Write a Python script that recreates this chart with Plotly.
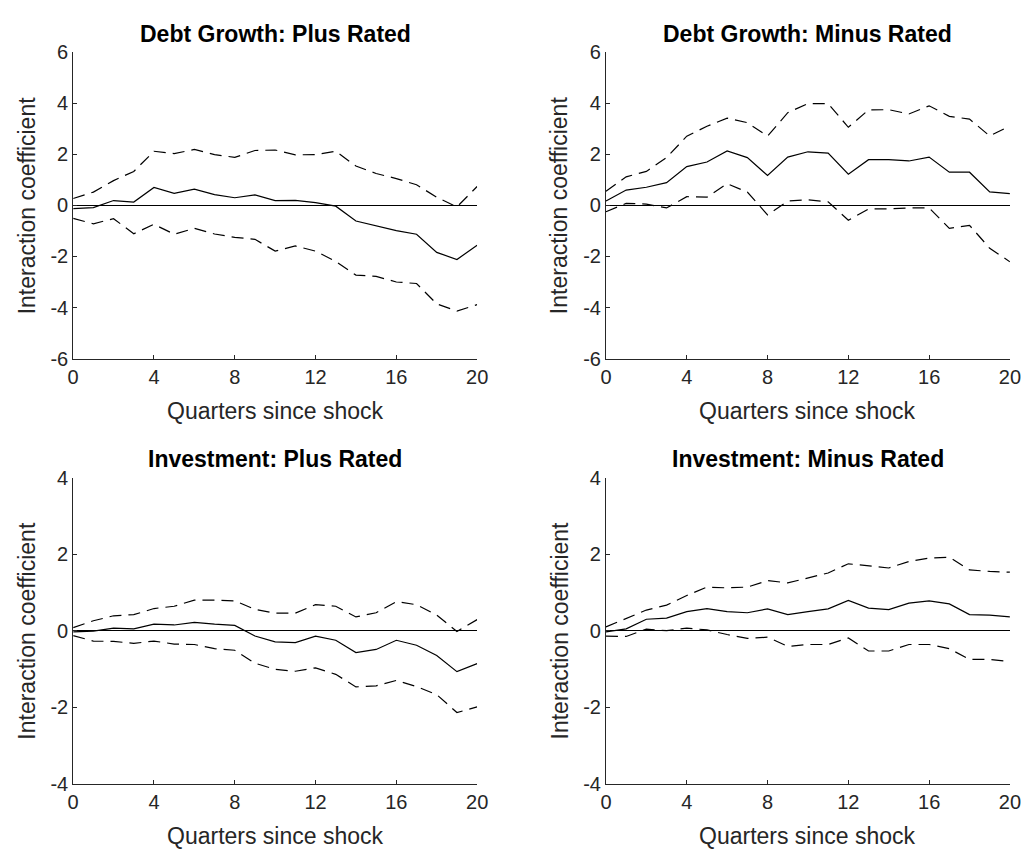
import plotly.graph_objects as go

quarters = list(range(21))

# Debt Growth: Plus Rated
dg_plus_est = [-0.13, -0.09, 0.19, 0.13, 0.70, 0.47, 0.64, 0.42, 0.30, 0.41, 0.19,
               0.20, 0.11, -0.03, -0.61, -0.79, -0.99, -1.13, -1.84, -2.12, -1.56]
dg_plus_hi = [0.27, 0.52, 0.97, 1.33, 2.12, 2.03, 2.19, 1.99, 1.88, 2.15, 2.17,
              1.98, 1.99, 2.12, 1.54, 1.25, 1.05, 0.81, 0.32, -0.06, 0.74]
dg_plus_lo = [-0.51, -0.72, -0.52, -1.11, -0.74, -1.13, -0.90, -1.12, -1.25, -1.33, -1.79,
              -1.59, -1.79, -2.20, -2.73, -2.78, -3.00, -3.06, -3.86, -4.14, -3.89]

# Debt Growth: Minus Rated
dg_minus_est = [0.17, 0.60, 0.71, 0.89, 1.52, 1.70, 2.13, 1.87, 1.17, 1.89, 2.10,
                2.05, 1.22, 1.79, 1.79, 1.74, 1.89, 1.30, 1.30, 0.53, 0.46]
dg_minus_hi = [0.55, 1.12, 1.33, 1.87, 2.71, 3.10, 3.42, 3.24, 2.71, 3.63, 3.99,
               3.99, 3.06, 3.74, 3.75, 3.58, 3.90, 3.49, 3.38, 2.72, 3.11]
dg_minus_lo = [-0.25, 0.08, 0.05, -0.10, 0.34, 0.32, 0.85, 0.52, -0.37, 0.17, 0.22,
               0.14, -0.58, -0.14, -0.14, -0.10, -0.10, -0.90, -0.78, -1.68, -2.21]

# Investment: Plus Rated
inv_plus_est = [-0.03, -0.01, 0.07, 0.05, 0.17, 0.15, 0.22, 0.17, 0.14, -0.14, -0.29,
                -0.31, -0.14, -0.25, -0.57, -0.49, -0.25, -0.38, -0.65, -1.07, -0.86]
inv_plus_hi = [0.08, 0.26, 0.39, 0.42, 0.58, 0.64, 0.80, 0.80, 0.78, 0.56, 0.46,
               0.46, 0.68, 0.64, 0.36, 0.47, 0.76, 0.68, 0.41, -0.02, 0.29]
inv_plus_lo = [-0.13, -0.27, -0.28, -0.33, -0.27, -0.35, -0.36, -0.47, -0.51, -0.85, -1.01,
               -1.06, -0.97, -1.14, -1.47, -1.44, -1.30, -1.46, -1.67, -2.14, -1.99]

# Investment: Minus Rated
inv_minus_est = [-0.03, 0.05, 0.30, 0.33, 0.50, 0.58, 0.50, 0.47, 0.57, 0.42, 0.50,
                 0.57, 0.79, 0.59, 0.55, 0.72, 0.78, 0.70, 0.42, 0.41, 0.36]
inv_minus_hi = [0.10, 0.31, 0.54, 0.67, 0.92, 1.14, 1.12, 1.14, 1.31, 1.25, 1.37,
                1.51, 1.75, 1.70, 1.64, 1.81, 1.90, 1.92, 1.59, 1.55, 1.53]
inv_minus_lo = [-0.14, -0.15, 0.04, 0.00, 0.07, 0.02, -0.10, -0.20, -0.17, -0.41, -0.36,
                -0.36, -0.19, -0.53, -0.53, -0.36, -0.36, -0.47, -0.75, -0.75, -0.81]

titles = ["Debt Growth: Plus Rated", "Debt Growth: Minus Rated",
          "Investment: Plus Rated", "Investment: Minus Rated"]
x_title = "Quarters since shock"
y_title = "Interaction coefficient"

x_tickvals = [0, 4, 8, 12, 16, 20]
x_ticktext = ["0", "4", "8", "12", "16", "20"]
top_tickvals = [-6, -4, -2, 0, 2, 4, 6]
top_ticktext = ["-6", "-4", "-2", "0", "2", "4", "6"]
bot_tickvals = [-4, -2, 0, 2, 4]
bot_ticktext = ["-4", "-2", "0", "2", "4"]

panels = [
    (dg_plus_est, dg_plus_hi, dg_plus_lo),
    (dg_minus_est, dg_minus_hi, dg_minus_lo),
    (inv_plus_est, inv_plus_hi, inv_plus_lo),
    (inv_minus_est, inv_minus_hi, inv_minus_lo),
]

W, H = 1034, 859
# pixel geometry of plot areas
xpix = [(68.3, 479.0), (610.0, 1020.7)]
ypix = [(42.3, 356.7), (479.0, 793.0)]

FONT = "Liberation Sans, Arial, sans-serif"
AXC = "#262626"

fig = go.Figure()
layout = dict(width=W, height=H, autosize=False,
              margin=dict(l=0, r=0, t=0, b=0),
              paper_bgcolor="white", plot_bgcolor="white",
              showlegend=False, annotations=[])

for i, (est, hi, lo) in enumerate(panels):
    row, col = divmod(i, 2)
    n = i + 1
    xa = "x" if n == 1 else f"x{n}"
    ya = "y" if n == 1 else f"y{n}"
    for ys, dash in ((hi, "12px,7px"), (lo, "12px,7px"), (est, "solid")):
        fig.add_trace(go.Scatter(x=quarters, y=ys, mode="lines",
                                 line=dict(color="black", width=1.2, dash=dash),
                                 xaxis=xa, yaxis=ya, hoverinfo="skip"))
    x0, x1 = xpix[col]
    y0, y1 = ypix[row]
    xdom = [x0 / W, x1 / W]
    ydom = [1 - y1 / H, 1 - y0 / H]
    tv = top_tickvals if row == 0 else bot_tickvals
    tt = top_ticktext if row == 0 else bot_ticktext
    yr = [tv[0], tv[-1]]
    axkey = "" if n == 1 else str(n)
    layout["xaxis" + axkey] = dict(
        domain=xdom, anchor=ya, range=[0, 20], tickvals=x_tickvals, ticktext=x_ticktext,
        showgrid=False, zeroline=False, showline=True, linecolor=AXC, linewidth=1,
        ticks="inside", ticklen=4, tickcolor=AXC, mirror=False,
        tickfont=dict(family=FONT, size=20, color=AXC))
    layout["yaxis" + axkey] = dict(
        domain=ydom, anchor=xa, range=yr, tickvals=tv, ticktext=tt,
        showgrid=False, zeroline=True, zerolinecolor="black", zerolinewidth=1,
        showline=True, linecolor=AXC, linewidth=1,
        ticks="inside", ticklen=4, tickcolor=AXC, mirror=False,
        tickfont=dict(family=FONT, size=20, color=AXC))
    cx = (x0 + x1) / 2 / W
    # title
    layout["annotations"].append(dict(
        text="<b>" + titles[i] + "</b>", x=cx, y=1 - (y0 - 19) / H,
        xref="paper", yref="paper", xanchor="center", yanchor="middle",
        showarrow=False, font=dict(family=FONT, size=23, color="black")))
    # x title
    layout["annotations"].append(dict(
        text=x_title, x=cx, y=1 - (y1 + 54) / H,
        xref="paper", yref="paper", xanchor="center", yanchor="middle",
        showarrow=False, font=dict(family=FONT, size=23, color=AXC)))
    # y title
    layout["annotations"].append(dict(
        text=y_title, x=(x0 - 47) / W, y=1 - (y0 + y1) / 2 / H, textangle=-90,
        xref="paper", yref="paper", xanchor="center", yanchor="middle",
        showarrow=False, font=dict(family=FONT, size=23, color=AXC)))

fig.update_layout(**layout)
fig.write_html("out.html", config={"displayModeBar": False},
               post_script="document.body.style.margin='0';document.body.style.overflow='hidden';")
